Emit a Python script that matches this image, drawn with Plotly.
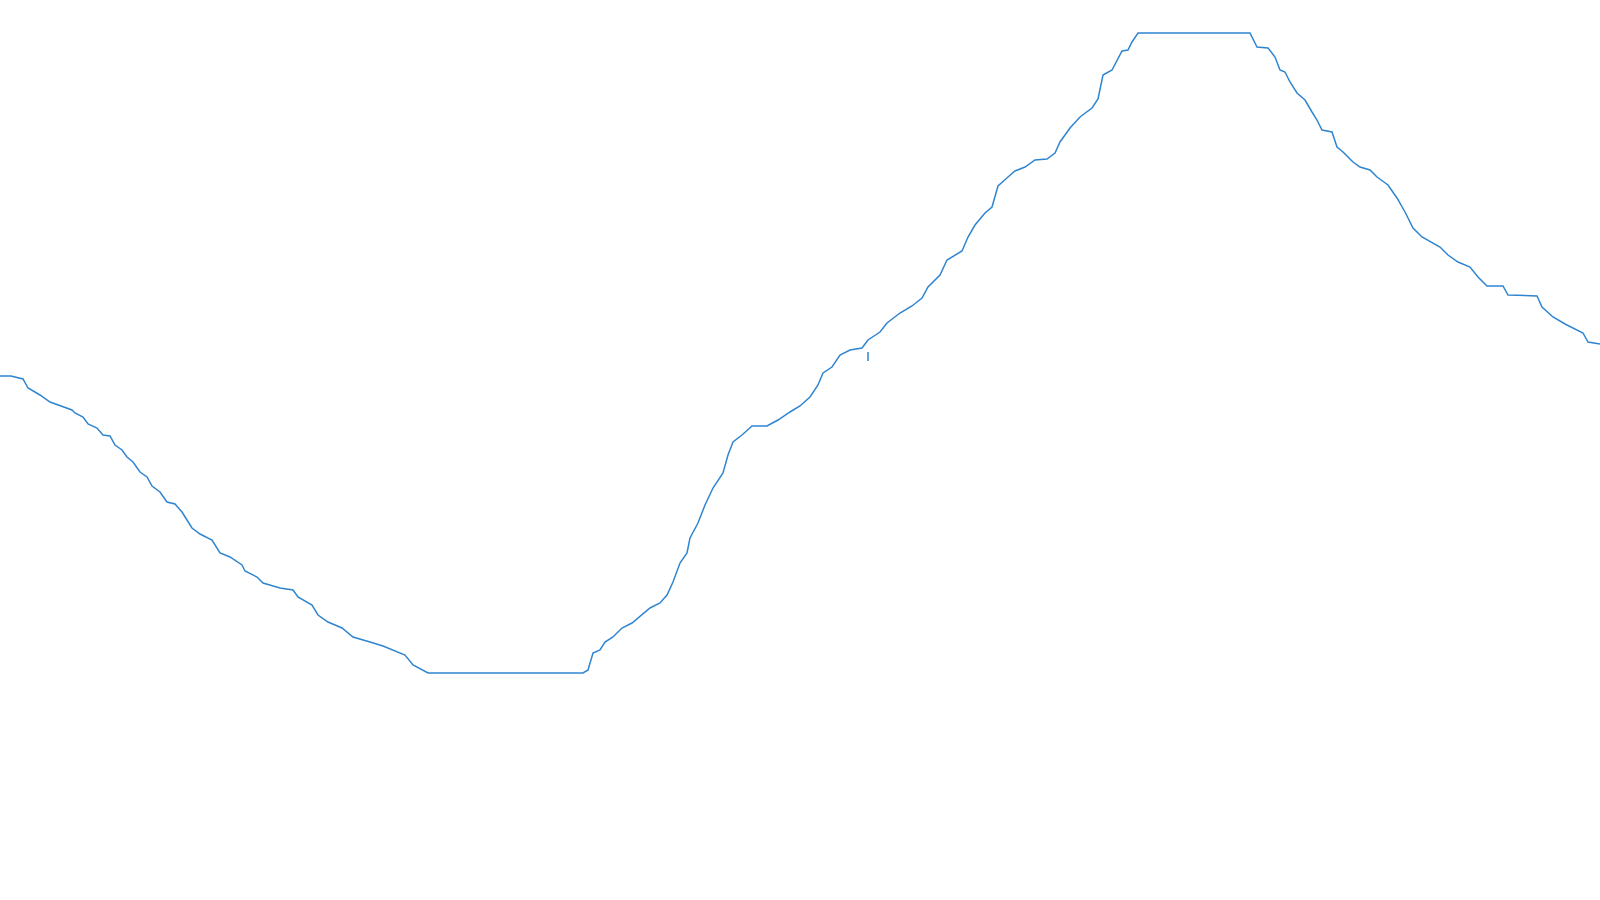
import plotly.graph_objs as go

# position along the track and the level
track = [0, 11, 23, 28, 40, 50, 72, 75, 83, 88, 97, 103, 110, 115, 122, 127,
         133, 140, 147, 152, 160, 167, 175, 182, 187, 192, 200, 212, 220, 230,
         242, 245, 257, 263, 280, 293, 298, 312, 318, 328, 342, 353, 370, 383,
         405, 413, 428, 583, 588, 593, 600, 605, 613, 622, 632, 642, 650, 660,
         667, 673, 680, 687, 690, 698, 705, 713, 723, 728, 733, 742, 752, 767,
         778, 790, 800, 810, 818, 823, 832, 840, 850, 862, 868, 880, 887, 900,
         912, 922, 928, 940, 947, 962, 968, 975, 985, 992, 998, 1008, 1015,
         1025, 1035, 1047, 1055, 1060, 1070, 1080, 1092, 1098, 1103, 1112,
         1118, 1122, 1128, 1132, 1138, 1250, 1257, 1268, 1275, 1280, 1285,
         1290, 1297, 1305, 1312, 1317, 1322, 1332, 1337, 1343, 1353, 1360,
         1370, 1377, 1388, 1397, 1405, 1413, 1422, 1432, 1440, 1448, 1458,
         1470, 1478, 1487, 1503, 1508, 1537, 1542, 1553, 1565, 1583, 1588,
         1600]
level = [524, 524, 521, 512, 505, 498, 490, 487, 483, 476, 472, 465, 464,
         455, 450, 443, 438, 428, 423, 414, 408, 398, 396, 388, 380, 372, 366,
         360, 347, 343, 335, 329, 323, 317, 312, 310, 303, 295, 285, 278, 272,
         263, 258, 254, 245, 235, 227, 227, 230, 247, 250, 258, 263, 272, 277,
         285, 292, 297, 305, 318, 337, 347, 362, 377, 395, 412, 427, 445, 458,
         465, 474, 474, 480, 488, 494, 503, 515, 527, 533, 545, 550, 552, 560,
         568, 577, 587, 594, 602, 613, 625, 640, 649, 663, 675, 687, 693, 714,
         723, 729, 733, 740, 741, 747, 758, 772, 783, 792, 801, 825, 830, 841,
         849, 850, 858, 867, 867, 853, 852, 843, 830, 828, 818, 807, 800, 788,
         780, 770, 768, 753, 748, 738, 733, 730, 723, 715, 702, 688, 672, 663,
         657, 653, 645, 638, 633, 623, 614, 614, 605, 604, 593, 583, 576, 567,
         558, 556]

# stray short segment below the line
stray_track = [868, 868]
stray_level = [548, 539]

trace1 = go.Scatter(x=track, y=level, mode='lines',
                    line=dict(color='#2f85d0', width=1.5),
                    hoverinfo='skip')
trace2 = go.Scatter(x=stray_track, y=stray_level, mode='lines',
                    line=dict(color='#2f85d0', width=1.5),
                    hoverinfo='skip')

layout = go.Layout(width=1600, height=900,
                   margin=dict(l=0, r=0, t=0, b=0),
                   paper_bgcolor='white', plot_bgcolor='white',
                   showlegend=False,
                   xaxis=dict(range=[0, 1600], visible=False),
                   yaxis=dict(range=[0, 900], visible=False))

fig = go.Figure(data=[trace1, trace2], layout=layout)
# drop the page margin so the figure sits flush with the window
fig.write_html("out.html",
               config={'displayModeBar': False},
               post_script="document.body.style.margin='0';"
                           "document.body.style.overflow='hidden';")
